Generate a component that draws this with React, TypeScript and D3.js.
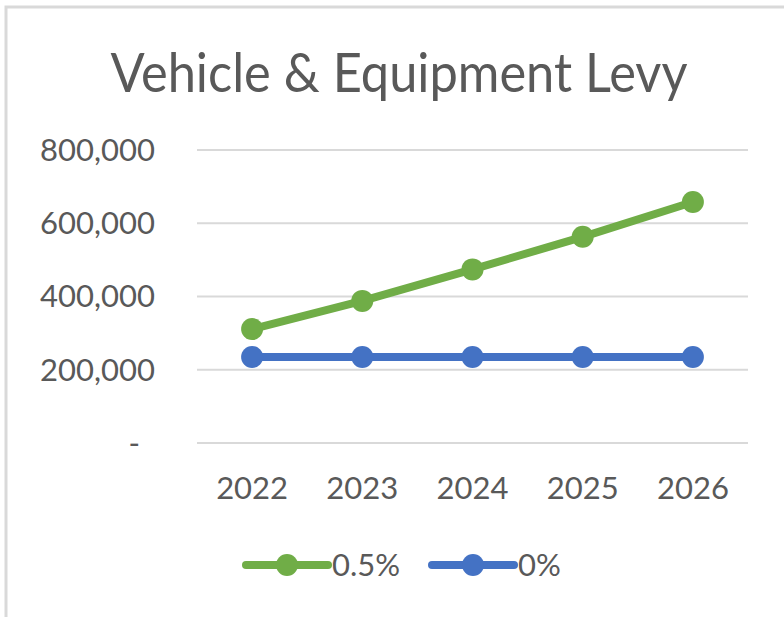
import { useEffect, useRef } from "react";
import * as d3 from "d3";

const years = ["2022", "2023", "2024", "2025", "2026"];
const levyHalfPct = [311000, 388000, 474000, 563000, 658000];
const levyZeroPct = [235000, 235000, 235000, 235000, 235000];
const yTicks = [0, 200000, 400000, 600000, 800000];
const seriesNames = ["0.5%", "0%"];
const seriesColors = ["#70ad47", "#4472c4"];

const font = "Lato, 'Noto Sans', sans-serif";
const textColor = "#595959";

function App() {
  const chartRef = useRef<SVGSVGElement>(null);

  useEffect(() => {
    const svg = d3.select(chartRef.current);
    svg.selectAll("*").remove();

    const width = 784;
    const height = 617;
    const plot = { left: 197, right: 748, top: 150, bottom: 443 };

    // chart area border (only top/left visible, the rest is cropped)
    svg
      .append("rect")
      .attr("x", 6)
      .attr("y", 7)
      .attr("width", width + 20)
      .attr("height", height + 20)
      .attr("fill", "#fff")
      .attr("stroke", "#d9d9d9")
      .attr("stroke-width", 3);

    svg
      .append("text")
      .attr("x", 399)
      .attr("y", 92)
      .attr("text-anchor", "middle")
      .attr("font-family", font)
      .attr("font-size", 55)
      .attr("fill", textColor)
      .attr("textLength", 577)
      .attr("lengthAdjust", "spacingAndGlyphs")
      .text("Vehicle & Equipment Levy");

    const x = d3
      .scaleBand()
      .domain(years)
      .range([plot.left, plot.right]);

    const y = d3
      .scaleLinear()
      .domain([0, 800000])
      .range([plot.bottom, plot.top]);

    const fmt = d3.format(",");

    svg
      .append("g")
      .selectAll("line")
      .data(yTicks)
      .join("line")
      .attr("x1", plot.left)
      .attr("x2", plot.right)
      .attr("y1", (d) => y(d))
      .attr("y2", (d) => y(d))
      .attr("stroke", "#d9d9d9")
      .attr("stroke-width", 2);

    svg
      .append("g")
      .selectAll("text")
      .data(yTicks)
      .join("text")
      .attr("x", (d) => (d === 0 ? 140 : 155))
      .attr("y", (d) => y(d))
      .attr("dy", "0.35em")
      .attr("text-anchor", "end")
      .attr("font-family", font)
      .attr("font-size", 31)
      .attr("fill", textColor)
      .text((d) => (d === 0 ? "-" : fmt(d)));

    svg
      .append("g")
      .selectAll("text")
      .data(years)
      .join("text")
      .attr("x", (d) => x(d)! + x.bandwidth() / 2)
      .attr("y", 488)
      .attr("dy", "0.35em")
      .attr("text-anchor", "middle")
      .attr("font-family", font)
      .attr("font-size", 31)
      .attr("fill", textColor)
      .text((d) => d);

    const line = d3
      .line<number>()
      .x((_, i) => x(years[i])! + x.bandwidth() / 2)
      .y((d) => y(d));

    [levyHalfPct, levyZeroPct].forEach((values, s) => {
      const g = svg.append("g");
      g.append("path")
        .datum(values)
        .attr("fill", "none")
        .attr("stroke", seriesColors[s])
        .attr("stroke-width", 8)
        .attr("stroke-linecap", "round")
        .attr("stroke-linejoin", "round")
        .attr("d", line);
      g.selectAll("circle")
        .data(values)
        .join("circle")
        .attr("cx", (_, i) => x(years[i])! + x.bandwidth() / 2)
        .attr("cy", (d) => y(d))
        .attr("r", 11)
        .attr("fill", seriesColors[s]);
    });

    // legend
    const legendX = [246, 432];
    seriesNames.forEach((name, s) => {
      const g = svg.append("g").attr("transform", `translate(${legendX[s]},565)`);
      g.append("line")
        .attr("x1", 0)
        .attr("x2", 82)
        .attr("stroke", seriesColors[s])
        .attr("stroke-width", 8)
        .attr("stroke-linecap", "round");
      g.append("circle").attr("cx", 41).attr("r", 11).attr("fill", seriesColors[s]);
      g.append("text")
        .attr("x", 86)
        .attr("dy", "0.35em")
        .attr("font-family", font)
        .attr("font-size", 31)
        .attr("fill", textColor)
        .text(name);
    });
  }, []);

  return (
    <svg
      ref={chartRef}
      width="784"
      height="617"
      style={{ position: "absolute", left: 0, top: 0, background: "#fff" }}
    ></svg>
  );
}

export default App;
